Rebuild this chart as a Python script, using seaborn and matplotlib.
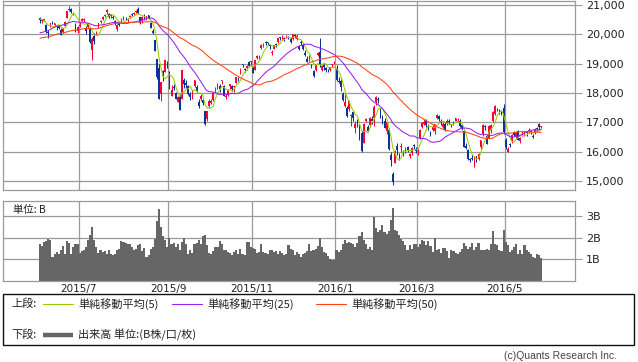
import numpy as np
import pandas as pd
import matplotlib
matplotlib.use("Agg")
import matplotlib.pyplot as plt
import seaborn as sns
from matplotlib.patches import Rectangle
from matplotlib.lines import Line2D

# ---------------- data ----------------
# closes before the visible window (used only to seed the moving averages)
pre_close = [19754, 19714, 19746, 19471, 19286, 19411, 19207,
             19035, 19312, 19435, 19397, 19640, 19790, 19937, 19908, 19905, 19908, 19870,
             19886, 19653, 19634, 19910, 20134, 20188, 20020, 20020, 20059, 19520,
             19532, 19292, 19380, 19621, 19625, 19765, 19571, 19733, 19890, 20027, 20197,
             20203, 20264, 20414, 20437, 20473, 20552, 20563,
             20570, 20544, 20474]

opens = [
    20560, 20450, 20520, 20330, 20050, 20250, 20430, 20330, 20290, 20300, 20150, 20080, 20280, 20550, 20820, 20850, 20680, 20300, 20130,
    20270, 20460, 20480, 20200, 20240, 20200, 19450, 19950, 19980, 20250, 20430, 20520, 20640, 20750, 20700, 20620, 20600, 20450, 20180, 20400, 20480, 20560,
    20570, 20480, 20580, 20700, 20680, 20760, 20850, 20580, 20500, 20630, 20550, 20650, 20400, 20100, 19800, 19150, 18850, 17950, 18750, 18700, 19050,
    18700, 17900, 18200, 18000, 17700, 17850, 17800, 18450, 18350, 18230, 17950, 17800, 18230, 18200, 17700, 17800, 17750, 17400, 17100,
    17550, 17650, 17750, 18130, 18200, 18250, 18400, 18250, 17850, 17950, 18250, 18250, 18200, 18350, 18450, 18650, 18950, 18800, 18850, 19050, 19050,
    18900, 18800, 19200, 19250, 19550, 19600, 19700, 19700, 19600, 19350, 19500, 19650, 19750, 19900, 19900, 19870, 19900, 19900, 19850,
    19830, 19980, 19850, 19600, 19750, 19650, 19350, 19150, 19200, 18950, 18750, 18800, 19300, 19400, 18800, 18950, 18850, 18800, 18780, 18950, 19000,
    18818, 18398, 18411, 17950, 17570, 17500, 17450, 17230, 17350, 16800, 17050, 16900, 16650, 16300, 17050, 16850, 16900, 17100, 17150,
    17700, 17800, 17450, 17100, 17050, 16700, 16750, 15900, 15250, 15600, 16200, 15850, 16150, 15950, 16050, 16150, 15850, 15950, 16200, 16100,
    16050, 16450, 16850, 16950, 17050, 16900, 16650, 16750, 16700, 17150, 17200, 17050, 16850, 16950, 16950, 17050, 16900, 16950, 17050, 17100, 17050, 16900,
    16700, 16200, 16050, 15750, 15800, 15600, 15850, 15750, 16150, 16600, 16850, 16550, 16450, 16750, 17050, 17300, 17450, 17400, 17350, 17500,
    16400, 16000, 16250, 16350, 16650, 16500, 16700, 16350, 16600, 16600, 16700, 16700, 16700, 16550, 16650, 16800, 16950, 16830]

highs = [
    20580, 20490, 20530, 20340, 20140, 20400, 20470, 20400, 20320, 20330, 20200, 20230, 20440, 20810, 20952, 20890, 20770, 20400, 20270,
    20420, 20560, 20570, 20300, 20400, 20260, 19900, 20050, 20120, 20400, 20500, 20630, 20680, 20850, 20710, 20700, 20660, 20480, 20340, 20410, 20560, 20620,
    20600, 20560, 20660, 20720, 20760, 20830, 20946, 20600, 20620, 20680, 20630, 20660, 20420, 20170, 19810, 19170, 19000, 18380, 18790, 19140, 19090,
    18750, 18270, 18300, 18050, 17890, 17950, 18770, 18500, 18450, 18280, 18050, 18100, 18450, 18270, 17780, 17950, 17800, 17400, 17400,
    17790, 17800, 18050, 18190, 18350, 18300, 18450, 18280, 17950, 18120, 18300, 18280, 18250, 18560, 18530, 18850, 19000, 18850, 18950, 19100, 19100,
    18920, 19120, 19310, 19300, 19660, 19700, 19760, 19750, 19650, 19450, 19650, 19700, 19870, 19910, 19960, 19900, 19960, 19930, 19900,
    20020, 20000, 20010, 19650, 19800, 19700, 19450, 19250, 19280, 19000, 18780, 19000, 19400, 19870, 18950, 19000, 18900, 18820, 18900, 19000, 19100,
    18951, 18547, 18469, 18050, 17975, 17550, 17750, 17280, 17400, 17050, 17100, 16950, 16700, 16960, 17150, 16900, 17180, 17200, 17600,
    17905, 17850, 17500, 17250, 17150, 17050, 16800, 16000, 15300, 16050, 16300, 15950, 16300, 16050, 16150, 16200, 15950, 16150, 16250, 16150,
    16120, 16780, 17000, 17100, 17100, 16950, 16700, 16900, 16950, 17290, 17250, 17100, 17000, 17000, 17100, 17100, 16950, 17050, 17150, 17150, 17100, 16950,
    16750, 16300, 16100, 15800, 15900, 15850, 15850, 15950, 16400, 16950, 16900, 16600, 16900, 16950, 17400, 17600, 17500, 17450, 17400, 17613,
    16450, 16150, 16300, 16600, 16700, 16700, 16750, 16500, 16700, 16700, 16700, 16800, 16750, 16600, 16790, 16850, 16980, 16880]

lows = [
    20400, 20380, 20440, 20050, 19870, 20240, 20340, 20280, 20160, 20180, 19980, 20030, 20270, 20540, 20800, 20710, 20650, 20070, 20030,
    20250, 20440, 20420, 20010, 20200, 19710, 19115, 19680, 19960, 20230, 20380, 20480, 20580, 20700, 20560, 20570, 20520, 20330, 20100, 20280, 20420, 20500,
    20500, 20420, 20540, 20620, 20650, 20720, 20690, 20340, 20400, 20480, 20480, 20530, 20200, 20000, 19435, 18460, 17806, 17715, 18400, 18700, 18850,
    18150, 17880, 18100, 17780, 17700, 17420, 17800, 18180, 18180, 17940, 17750, 17780, 18200, 18050, 17500, 17720, 17600, 16900, 17060,
    17500, 17630, 17730, 18050, 18150, 18020, 18300, 17880, 17800, 17900, 18150, 18080, 18050, 18330, 18400, 18640, 18880, 18700, 18780, 18900, 18960,
    18680, 18780, 19150, 19150, 19510, 19560, 19630, 19650, 19500, 19300, 19490, 19580, 19720, 19800, 19850, 19780, 19860, 19840, 19700,
    19800, 19870, 19800, 19470, 19650, 19450, 19250, 19040, 19100, 18850, 18560, 18750, 19250, 18900, 18750, 18800, 18700, 18710, 18750, 18900, 19000,
    18394, 18327, 18064, 17720, 17509, 17190, 17400, 16880, 17050, 16650, 16850, 16387, 15990, 16300, 17000, 16660, 16850, 16950, 16880,
    17600, 17650, 17150, 16950, 16800, 16600, 16050, 15500, 14865, 15600, 15900, 15700, 16000, 15850, 15950, 16000, 15800, 15900, 16100, 15950,
    15900, 16440, 16800, 16900, 16850, 16750, 16550, 16700, 16600, 17100, 17050, 16900, 16800, 16700, 16900, 16950, 16850, 16900, 17050, 17050, 16850, 16750,
    16150, 16100, 15700, 15650, 15700, 15470, 15650, 15700, 16100, 16550, 16750, 16250, 16450, 16650, 17000, 17250, 17400, 17300, 17250, 16600,
    16100, 15975, 16150, 16300, 16550, 16450, 16400, 16300, 16550, 16550, 16550, 16650, 16600, 16450, 16600, 16700, 16770, 16820]

closes = [
    20488, 20460, 20457, 20096, 20046, 20382, 20407, 20387, 20257, 20219, 19990, 20174, 20428, 20809, 20868, 20772, 20706, 20109, 20235,
    20329, 20522, 20539, 20112, 20376, 19737, 19855, 19779, 20089, 20385, 20463, 20600, 20650, 20841, 20593, 20683, 20544, 20350, 20328, 20302, 20523, 20585,
    20548, 20520, 20614, 20664, 20724, 20808, 20720, 20392, 20595, 20519, 20620, 20554, 20222, 20033, 19435, 18540, 17806, 18376, 18574, 19136, 18890,
    18165, 18095, 18182, 17792, 17860, 17427, 18770, 18299, 18264, 17965, 17849, 18026, 18432, 18070, 17571, 17880, 17645, 16930, 17388,
    17722, 17725, 18005, 18186, 18322, 18141, 18438, 17891, 17891, 18096, 18291, 18131, 18207, 18554, 18435, 18825, 18947, 18777, 18903, 18935, 19083,
    18683, 19116, 19265, 19265, 19642, 19671, 19697, 19697, 19596, 19393, 19649, 19649, 19859, 19879, 19924, 19847, 19944, 19883, 19747,
    20012, 19938, 19939, 19504, 19698, 19492, 19301, 19046, 19230, 18883, 18565, 18986, 19353, 18986, 18916, 18886, 18789, 18769, 18873, 18982, 19033,
    18450, 18374, 18191, 17767, 17697, 17218, 17715, 17240, 17147, 16955, 17048, 16416, 16017, 16958, 17110, 16708, 17163, 17041, 17518,
    17865, 17750, 17191, 17044, 16819, 17004, 16085, 15713, 14952, 16022, 16054, 15836, 16196, 15967, 16111, 16052, 15915, 16140, 16188, 16027,
    16085, 16747, 16960, 17015, 16912, 16784, 16642, 16852, 16939, 17234, 17117, 16974, 16936, 16725, 17049, 17001, 16892, 17003, 17135, 17104, 16879, 16759,
    16164, 16123, 15733, 15715, 15750, 15822, 15752, 15929, 16381, 16911, 16848, 16276, 16875, 16907, 17364, 17572, 17440, 17353, 17290, 16666,
    16147, 16106, 16216, 16565, 16579, 16646, 16412, 16466, 16652, 16644, 16646, 16736, 16654, 16498, 16757, 16772, 16834, 16860]

volume_b = [
    1.73, 1.63, 1.80, 1.85, 1.92, 1.91, 1.11, 1.27, 1.34, 1.24,
    1.42, 1.60, 1.27, 1.85, 1.76, 1.27, 1.57, 1.69, 1.73, 1.30,
    1.39, 1.42, 1.57, 1.88, 2.11, 2.52, 1.88, 1.57, 1.30, 1.42,
    1.34, 1.39, 1.27, 1.45, 1.27, 1.19, 1.27, 1.45, 1.50, 1.85,
    1.80, 1.76, 1.73, 1.69, 1.57, 1.45, 1.50, 1.65, 1.73, 1.39,
    1.54, 1.11, 1.19, 1.47, 1.57, 1.95, 2.76, 3.33, 2.52, 2.06,
    1.91, 1.57, 2.00, 1.73, 1.76, 1.57, 1.73, 1.45, 1.80, 2.00,
    1.73, 1.27, 1.45, 1.30, 1.73, 1.77, 1.88, 1.73, 2.06, 2.11,
    1.65, 1.30, 1.27, 1.39, 1.57, 1.57, 1.85, 1.73, 1.45, 1.45,
    1.34, 1.30, 1.22, 1.34, 1.45, 1.24, 1.50, 1.27, 1.19, 1.80,
    1.80, 1.57, 1.54, 1.50, 1.30, 1.34, 1.69, 1.34, 1.30, 1.27,
    1.42, 1.45, 1.34, 1.39, 1.27, 1.37, 1.30, 1.19, 1.27, 1.65,
    1.50, 1.42, 1.19, 1.34, 1.27, 1.11, 1.27, 1.30, 1.39, 1.69,
    1.39, 1.42, 1.50, 1.60, 2.00, 1.57, 1.34, 1.30, 1.15, 1.04,
    0.99, 0.99, 1.42, 1.34, 1.45, 1.73, 1.88, 1.76, 1.80, 1.76,
    1.69, 1.57, 1.76, 2.06, 2.26, 1.91, 1.73, 1.50, 1.57, 1.42,
    2.95, 2.46, 2.26, 2.37, 2.61, 2.26, 2.18, 2.31, 2.82, 3.37,
    2.34, 2.31, 2.11, 1.95, 1.85, 1.65, 1.45, 1.65, 1.50, 1.73,
    1.69, 1.57, 1.69, 1.91, 1.85, 1.65, 1.85, 1.60, 1.34, 2.00,
    1.45, 1.50, 1.30, 1.54, 1.54, 1.39, 1.08, 1.42, 1.39, 1.30,
    1.27, 1.34, 1.50, 1.76, 1.60, 1.48, 1.57, 1.76, 1.42, 1.57,
    1.76, 1.42, 1.45, 1.45, 1.50, 1.45, 1.73, 2.31, 1.73, 1.65,
    1.45, 1.39, 2.34, 1.80, 1.65, 1.34, 1.45, 1.57, 1.73, 1.24,
    1.42, 1.27, 1.65, 1.45, 1.34, 1.24, 1.11, 1.08, 1.24, 1.19, 1.08]

month_labels = ["2015/7", "2015/9", "2015/11", "2016/1", "2016/3", "2016/5"]
month_start_idx = [19, 62, 102, 142, 181, 223]
price_ticks = [15000, 16000, 17000, 18000, 19000, 20000, 21000]
price_tick_labels = ["15,000", "16,000", "17,000", "18,000", "19,000", "20,000", "21,000"]
vol_ticks = [1, 2, 3]
vol_tick_labels = ["1B", "2B", "3B"]
ma_windows = [5, 25, 50]
ma_colors = ["#99cc00", "#9922ee", "#ff4411"]
ma_labels = ["単純移動平均(5)", "単純移動平均(25)", "単純移動平均(50)"]

# ---------------- style ----------------
sns.set_style("white")
plt.rcParams["font.family"] = ["DejaVu Sans", "Noto Sans CJK JP"]
JP = ["Noto Sans CJK JP", "DejaVu Sans"]

UP = "#ff0033"
DOWN = "#0a3399"
GRID = "#9a9a9a"
TXT = "#222222"

n = len(closes)
x = np.arange(n)
o = np.array(opens, float); h = np.array(highs, float)
l = np.array(lows, float); c = np.array(closes, float)
full = pd.Series(pre_close + closes, dtype=float)

W, H = 638, 362
fig = plt.figure(figsize=(W / 100, H / 100), dpi=100)


def fr(x0, y0, x1, y1):
    return [x0 / W, 1 - y1 / H, (x1 - x0) / W, (y1 - y0) / H]


ax = fig.add_axes(fr(3, 1, 575, 190))
axv = fig.add_axes(fr(3, 201, 575, 281))

x_left, x_right = -17.7, 256.2
grid_x = [m - 0.5 for m in month_start_idx]

for a in (ax, axv):
    a.set_xlim(x_left, x_right)
    for s in a.spines.values():
        s.set_color(GRID)
        s.set_linewidth(0.9)
    for gx in grid_x:
        a.axvline(gx, color=GRID, lw=0.9, zorder=0)
    a.yaxis.tick_right()
    a.tick_params(axis="y", length=5, width=0.8, color=GRID, pad=3,
                  labelsize=8, labelcolor=TXT)

# ---- price panel ----
ax.set_ylim(14692, 21136)
for pt in price_ticks:
    ax.axhline(pt, color=GRID, lw=0.9, zorder=0)
ax.set_yticks(price_ticks)
ax.set_yticklabels(price_tick_labels)
ax.set_xticks([])

cols = np.where(c >= o, UP, DOWN)
ax.vlines(x, l, h, colors=cols, linewidth=0.75, zorder=2)
body_lo = np.minimum(o, c)
body_h = np.maximum(np.abs(c - o), 25)
ax.bar(x, body_h, bottom=body_lo, width=0.8, color=cols, linewidth=0, zorder=2)

for win, col in zip(ma_windows, ma_colors):
    ma = full.rolling(win).mean().iloc[len(pre_close):].to_numpy()
    sns.lineplot(x=x, y=ma, ax=ax, color=col, linewidth=0.75, zorder=3, legend=False)
ax.set_xlabel(""); ax.set_ylabel("")

# ---- volume panel ----
axv.set_ylim(0, 3.70)
for vt in vol_ticks:
    axv.axhline(vt, color=GRID, lw=0.9, zorder=0)
axv.bar(x, volume_b, width=1.0, color="#666666", linewidth=0, zorder=2)
axv.set_yticks(vol_ticks)
axv.set_yticklabels(vol_tick_labels)
axv.set_xticks(grid_x)
axv.set_xticklabels(month_labels)
axv.tick_params(axis="x", length=0, pad=2, labelsize=7.5, labelcolor=TXT)

fig.text(13 / W, 1 - 210 / H, "単位: B", family=JP, fontsize=7.5, color=TXT,
         ha="left", va="center")

# ---- legend box ----
fig.add_artist(Rectangle((3 / W, 1 - 345 / H), (634 - 3) / W, (345 - 294) / H,
                         transform=fig.transFigure, fill=False,
                         edgecolor="#111111", linewidth=1.0))
fig.text(11 / W, 1 - 304 / H, "上段:", family=JP, fontsize=8, color=TXT,
         ha="left", va="center")
fig.text(11 / W, 1 - 335 / H, "下段:", family=JP, fontsize=8, color=TXT,
         ha="left", va="center")
leg_x = [43, 172, 316]
for lx, col, lab in zip(leg_x, ma_colors, ma_labels):
    fig.add_artist(Line2D([lx / W, (lx + 30) / W], [1 - 304 / H, 1 - 304 / H],
                          transform=fig.transFigure, color=col, lw=0.8))
    fig.text((lx + 35) / W, 1 - 304 / H, lab, family=JP, fontsize=8, color=TXT,
             ha="left", va="center")
fig.add_artist(Line2D([43 / W, 73 / W], [1 - 335 / H, 1 - 335 / H],
                      transform=fig.transFigure, color="#666666", lw=3.2,
                      solid_capstyle="butt"))
fig.text(78 / W, 1 - 335 / H, "出来高 単位:(B株/口/枚)", family=JP, fontsize=8,
         color=TXT, ha="left", va="center")

fig.text(617 / W, 1 - 356 / H, "(c)Quants Research Inc.",
         family=["Liberation Sans", "DejaVu Sans"], fontsize=7.5, color="#444444",
         ha="right", va="center")

fig.savefig("out.png", dpi=100)
